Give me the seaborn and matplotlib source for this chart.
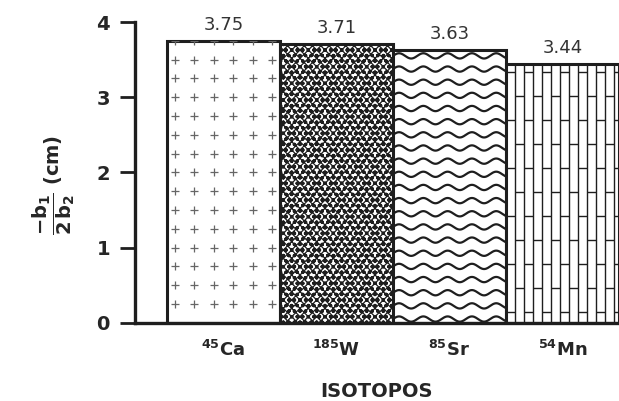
import numpy as np
import pandas as pd
import matplotlib
matplotlib.use("Agg")
import matplotlib.pyplot as plt
import seaborn as sns

# values
isotopes = [r'$^{45}$Ca', r'$^{185}$W', r'$^{85}$Sr', r'$^{54}$Mn']
ratio = [3.75, 3.71, 3.63, 3.44]
ratio_labels = ['3.75', '3.71', '3.63', '3.44']
yticks = [0, 1, 2, 3, 4]

df = pd.DataFrame({'isotopo': isotopes, 'ratio': ratio})

sns.set_style('white')
plt.rcParams['font.family'] = ['DejaVu Sans']
plt.rcParams['mathtext.default'] = 'bf'
plt.rcParams['hatch.linewidth'] = 0.9
ink = '#1e1e1e'

fig = plt.figure(figsize=(6.19, 4.01), dpi=100)
ax = fig.add_axes([0.218, 0.195, 0.782, 0.75])

sns.barplot(data=df, x='isotopo', y='ratio', width=1.0, color='white',
            edgecolor=ink, linewidth=2.2, ax=ax)

bars = ax.patches
ax.set_xlim(-0.783, 3.5)
ax.set_ylim(0, 4)

# bar 1: little crosses
p = bars[0]
x0, w, h = p.get_x(), p.get_width(), p.get_height()
xs = x0 + 0.07 + np.arange(6) * 0.172
ys = h - np.arange(0, 20) * 0.25
ys = ys[ys > 0.03]
gx, gy = np.meshgrid(xs, ys)
sc = ax.scatter(gx.ravel(), gy.ravel(), marker='+', s=26, color='#666666',
                linewidths=0.9, zorder=3)
sc.set_clip_path(p)

# bar 2: dark stipple
bars[1].set_hatch('xxxxooo')

# bar 3: wavy lines
p = bars[2]
x0, w, h = p.get_x(), p.get_width(), p.get_height()
xx = np.linspace(x0, x0 + w, 300)
for yk in np.arange(h - 0.08, 0, -0.175):
    ln, = ax.plot(xx, yk + 0.035 * np.sin(2 * np.pi * (xx - x0) / 0.215),
                  color=ink, lw=1.6, zorder=3)
    ln.set_clip_path(p)

# bar 4: rotated brick pattern
p = bars[3]
x0, w, h = p.get_x(), p.get_width(), p.get_height()
cols = x0 + 0.08 * np.arange(0, 14)
vl = ax.vlines(cols, 0, h, color=ink, lw=1.0, zorder=3)
vl.set_clip_path(p)
for j in range(len(cols) - 1):
    ys = np.arange(h - 0.1 - 0.32 * (j % 2), 0, -0.64)
    hl = ax.hlines(ys, cols[j], cols[j + 1], color=ink, lw=1.0, zorder=3)
    hl.set_clip_path(p)

for p in bars:
    p.set_zorder(2)
    p.set_linewidth(2.2)

ax.bar_label(ax.containers[0], labels=ratio_labels, padding=5,
             fontsize=13, color='#333333')

ax.set_yticks(yticks)
ax.set_yticklabels([str(v) for v in yticks], fontsize=14, fontweight='bold')
ax.set_xticks(range(len(isotopes)))
ax.set_xticklabels(isotopes, fontsize=13, fontweight='bold')
ax.tick_params(axis='y', left=True, direction='out', length=11, width=2,
               color=ink, pad=7)
ax.tick_params(axis='x', bottom=False, length=0, pad=12)

for side in ['top', 'right']:
    ax.spines[side].set_visible(False)
for side in ['left', 'bottom']:
    ax.spines[side].set_linewidth(2.4)
    ax.spines[side].set_color(ink)

ax.set_xlabel('ISOTOPOS', fontsize=14, fontweight='bold', labelpad=16)
ax.set_ylabel(r'$\dfrac{-b_{\mathbf{1}}}{2\,b_{\mathbf{2}}}$ (cm)', fontsize=14,
              fontweight='bold')
ax.yaxis.set_label_coords(-0.12, 0.46)

fig.savefig('out.png', dpi=100, facecolor='white')
